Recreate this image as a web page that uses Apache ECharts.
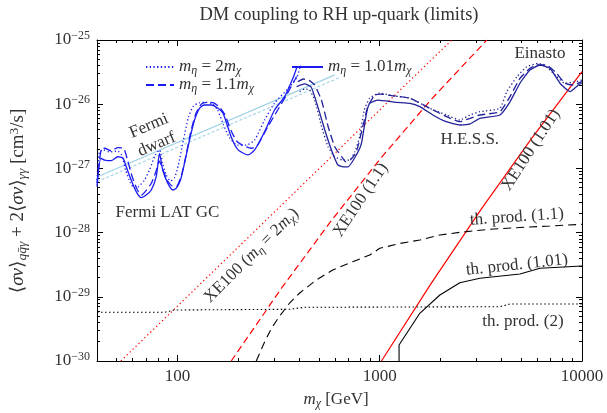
<!DOCTYPE html>
<html><head><meta charset="utf-8">
<script src="https://cdn.jsdelivr.net/npm/echarts@6/dist/echarts.min.js"></script>
<style>html,body{margin:0;padding:0;background:#fff}#c{width:607px;height:413px}</style>
</head><body><div id="c"></div>
<script>
// ---------------- data (mass in GeV, <sigma v> in cm^3/s) ----------------
const xTickLabels = [100, 1000, 10000];
const yTickLabels = [1e-30, 1e-29, 1e-28, 1e-27, 1e-26, 1e-25];

// Fermi LAT GC limits
const gcDot_m = [40, 41.1, 43, 46.1, 50.5, 52.9, 55.4, 58.6, 61.3, 64.2, 68.7, 72.7, 77.7, 81.5, 84.3, 88, 92.3, 96.6, 101, 107, 113.4, 120, 128.5, 139, 149, 157.8, 169, 181, 198, 219, 240.6, 269.6, 302, 346.5, 388, 406];
const gcDot_sv = [6.6e-28, 1.8e-27, 1.94e-27, 1.8e-27, 1.87e-27, 1.62e-27, 9.44e-28, 5.93e-28, 4.95e-28, 5.2e-28, 6.6e-28, 9.44e-28, 1.62e-27, 1.94e-27, 1.21e-27, 7.9e-28, 6.4e-28, 7.1e-28, 1.13e-27, 2.77e-27, 6.3e-27, 9.38e-27, 1.05e-26, 1.07e-26, 1.01e-26, 8.12e-27, 4.74e-27, 2.98e-27, 2.31e-27, 2.31e-27, 2.77e-27, 5.67e-27, 1.04e-26, 1.66e-26, 2.56e-26, 4.08e-26];
const gcDash_m = [40, 41.9, 43.6, 47.1, 50.5, 54.1, 56.6, 60, 63.4, 66.4, 70.3, 74.4, 78.7, 81.5, 84.8, 89.2, 94.4, 98.9, 104.7, 109.5, 116, 123, 131.5, 141, 151, 161.4, 171, 183.5, 196, 212, 232, 249, 279, 313, 346, 380, 388];
const gcDash_sv = [5.93e-28, 1.94e-27, 2.06e-27, 1.87e-27, 2.1e-27, 2.06e-27, 1.35e-27, 7.08e-28, 4.61e-28, 3.85e-28, 4.61e-28, 5.93e-28, 9.44e-28, 1.3e-27, 9.44e-28, 6.4e-28, 5.3e-28, 5.3e-28, 7.9e-28, 1.45e-27, 3.56e-27, 7.03e-27, 1.01e-26, 1.07e-26, 1.05e-26, 9.0e-27, 7.0e-27, 3.97e-27, 2.67e-27, 2.25e-27, 2.06e-27, 2.31e-27, 4.41e-27, 8.12e-27, 1.39e-26, 2.38e-26, 2.7e-26];
const gcSol_m = [40, 41.8, 43.6, 47.0, 50.7, 53.8, 55.8, 59.0, 62.5, 66.1, 70.0, 74.2, 78.5, 81.5, 84.5, 89.5, 94.8, 98.5, 103.5, 108.3, 114.7, 121.4, 128.5, 136, 147, 158.5, 168, 185, 199.5, 223, 240.6, 269.6, 302, 338.6, 372, 391];
const gcSol_sv = [5.2e-28, 1.44e-27, 1.35e-27, 1.32e-27, 1.52e-27, 1.44e-27, 1.06e-27, 6.6e-28, 4.34e-28, 3.5e-28, 3.85e-28, 4.61e-28, 7.43e-28, 1.72e-27, 9.44e-28, 5.9e-28, 4.61e-28, 4.9e-28, 6.6e-28, 1.2e-27, 2.77e-27, 5.67e-27, 8.63e-27, 9.72e-27, 9.72e-27, 8.63e-27, 7.22e-27, 3.0e-27, 1.94e-27, 1.62e-27, 1.94e-27, 3.73e-27, 8.12e-27, 1.31e-26, 2.53e-26, 3.9e-26];

// H.E.S.S. limits (Einasto)
const hsDot_m = [402, 425, 450, 477, 516, 555, 599, 656, 710, 752, 796, 838, 892, 1000, 1185, 1409, 1770, 2140, 2489, 2792, 3126, 3926, 4250, 4770, 5340, 6080, 6650, 7500, 8241, 9350, 10000];
const hsDot_sv = [1.57e-26, 1.73e-26, 1.66e-26, 1.16e-26, 4.46e-27, 2.18e-27, 1.52e-27, 1.35e-27, 1.35e-27, 1.8e-27, 3.12e-27, 8.12e-27, 1.24e-26, 1.49e-26, 1.34e-26, 1.24e-26, 8.63e-27, 6.79e-27, 5.67e-27, 6.79e-27, 7.64e-27, 8.63e-27, 1.57e-26, 2.68e-26, 3.84e-26, 4.33e-26, 3.84e-26, 2.68e-26, 2.12e-26, 2.24e-26, 2.38e-26];
const hsDash_m = [393, 419, 450, 477, 515, 556, 599, 648, 678, 715, 767, 824, 873, 944, 1000, 1185, 1409, 1770, 2140, 2489, 2792, 3126, 3926, 4405, 4935, 5531, 5920, 6650, 7500, 8241, 9060, 10000];
const hsDash_sv = [2.24e-26, 2.47e-26, 2.33e-26, 1.99e-26, 1.16e-26, 4.46e-27, 2.18e-27, 1.52e-27, 1.27e-27, 1.35e-27, 1.82e-27, 4.46e-27, 9.15e-27, 1.39e-26, 1.44e-26, 1.34e-26, 1.24e-26, 8.63e-27, 6.39e-27, 5.34e-27, 6.03e-27, 6.79e-27, 7.64e-27, 1.31e-26, 2.53e-26, 3.62e-26, 4.08e-26, 4.08e-26, 3.0e-26, 2.12e-26, 1.99e-26, 2.24e-26];
const hsSol_m = [388, 425, 458, 494, 535, 577, 621, 660, 697, 766, 812, 860, 892, 980, 1205, 1409, 1578, 1830, 2130, 2489, 2792, 3126, 3926, 4405, 4935, 5531, 6197, 6945, 7782, 8728, 9600, 10000];
const hsSol_sv = [1.87e-26, 2.07e-26, 1.85e-26, 9.15e-27, 3.97e-27, 1.94e-27, 1.13e-27, 1.06e-27, 1.06e-27, 1.62e-27, 2.46e-27, 7.22e-27, 1.03e-26, 1.16e-26, 1.07e-26, 1.03e-26, 9.15e-27, 6.79e-27, 5.34e-27, 4.74e-27, 4.92e-27, 6.03e-27, 6.79e-27, 1.09e-26, 2.12e-26, 3.41e-26, 4.08e-26, 3.62e-26, 2.12e-26, 1.57e-26, 1.99e-26, 2.12e-26];

// Fermi dwarf
const dwSol_m = [40, 600];
const dwSol_sv = [7.34e-28, 2.86e-26];
const dwDash_m = [40, 634];
const dwDash_sv = [6.2e-28, 2.61e-26];

// XENON100
const xeDot_m = [52.5, 2270];
const xeDot_sv = [1e-30, 1e-25];
const xeDash_m = [184.4, 326.1, 576.8, 1019.5, 1803, 3386];
const xeDash_sv = [1e-30, 1.35e-29, 1.543e-28, 1.483e-27, 1.2e-26, 1e-25];
const xeSol_m = [1019.5, 1803, 3188, 5636, 10000];
const xeSol_sv = [1e-30, 1.646e-29, 2.357e-28, 2.943e-27, 3.208e-26];

// thermal production
const thDot_m = [40, 86.3, 96.6, 358.4, 425.3, 3926, 4405, 10000];
const thDot_sv = [5.74e-30, 5.74e-30, 6.23e-30, 6.39e-30, 6.86e-30, 7.01e-30, 7.72e-30, 7.72e-30];
const thDash_m = [245.2, 269.6, 292, 320, 358.4, 401.9, 486, 585.3, 735, 892, 1000, 1257, 1578, 1983, 2489, 3505, 4935, 6945, 10000];
const thDash_sv = [1e-30, 1.98e-30, 3.27e-30, 5.02e-30, 8.0e-30, 1.146e-29, 1.827e-29, 2.61e-29, 3.52e-29, 4.48e-29, 5.69e-29, 6.76e-29, 7.67e-29, 9.18e-29, 1.011e-28, 1.126e-28, 1.2e-28, 1.267e-28, 1.346e-28];
const thSol_m = [1246, 1246, 1578, 1983, 2489, 3126, 4935, 6197, 10000];
const thSol_sv = [1e-30, 1.775e-30, 5.53e-30, 1.066e-29, 1.66e-29, 1.94e-29, 2.26e-29, 2.78e-29, 3.02e-29];

// ---------------- chart ----------------
const L = Math.log10;
const FONT = '"Liberation Serif","DejaVu Serif",serif';
const TXT = '#333';
const pts = (m, s) => m.map((v, i) => [L(v), L(s[i])]);

const xMin = L(40), xMax = L(10000), yMin = L(1e-30), yMax = L(1e-25);
const xMajor = xTickLabels.map(L);
const yMajor = yTickLabels.map(v => Math.round(L(v)));
const xMinor = [], yMinor = [];
for (let e = 1; e <= 3; e++) for (let k = 2; k <= 9; k++) { const v = k * Math.pow(10, e); if (v > 40 && v < 10000) xMinor.push(L(v)); }
for (let e = -30; e <= -26; e++) for (let k = 2; k <= 9; k++) yMinor.push(e + L(k));

const R = {
  n: {fontFamily: FONT, fontSize: 17, color: TXT, lineHeight: 20, verticalAlign: 'middle'},
  t: {fontFamily: FONT, fontSize: 18.5, color: TXT, lineHeight: 20, verticalAlign: 'middle'},
  i: {fontFamily: FONT, fontSize: 17, fontStyle: 'italic', color: TXT, lineHeight: 20, verticalAlign: 'middle'},
  s: {fontFamily: FONT, fontSize: 12, color: TXT, lineHeight: 8, verticalAlign: 'bottom'},
  si: {fontFamily: FONT, fontSize: 12, fontStyle: 'italic', color: TXT, lineHeight: 8, verticalAlign: 'bottom'},
  p: {fontFamily: FONT, fontSize: 12, color: TXT, lineHeight: 10, verticalAlign: 'top'},
  // larger variants for the y-axis title
  yn: {fontFamily: FONT, fontSize: 19, color: TXT, lineHeight: 22, verticalAlign: 'middle'},
  yi: {fontFamily: FONT, fontSize: 19, fontStyle: 'italic', color: TXT, lineHeight: 22, verticalAlign: 'middle'},
  ys: {fontFamily: FONT, fontSize: 13.5, fontStyle: 'italic', color: TXT, lineHeight: 9, verticalAlign: 'bottom'},
  yp: {fontFamily: FONT, fontSize: 13.5, color: TXT, lineHeight: 11, verticalAlign: 'top'}
};

function axis(dim, pos, vals, len, main) {
  const isX = dim === 'x';
  return {
    type: 'value', position: pos,
    min: isX ? xMin : yMin, max: isX ? xMax : yMax,
    axisLine: {show: main, onZero: false, lineStyle: {color: '#000', width: 1}},
    axisTick: {show: true, inside: true, length: len, customValues: vals, lineStyle: {color: '#000', width: 1}},
    axisLabel: {show: false},
    splitLine: {show: false}, minorTick: {show: false}
  };
}
const xAxes = [axis('x', 'bottom', xMajor, 6, true), axis('x', 'bottom', xMinor, 3, false),
               axis('x', 'top', xMajor, 6, true), axis('x', 'top', xMinor, 3, false)];
xAxes[0].axisLabel = {show: true, customValues: xMajor, margin: 7, fontFamily: FONT, fontSize: 17, color: TXT,
  formatter: v => String(Math.round(Math.pow(10, v)))};
const yAxes = [axis('y', 'left', yMajor, 6, true), axis('y', 'left', yMinor, 3, false),
               axis('y', 'right', yMajor, 6, true), axis('y', 'right', yMinor, 3, false)];
yAxes[0].axisLabel = {show: true, customValues: yMajor, margin: 7,
  formatter: v => '{n|10}{p|' + String(Math.round(v)).replace('-', '\u2212') + '}',
  rich: R};

function line(name, m, s, color, width, type, smooth, z) {
  return {type: 'line', name: name, data: pts(m, s), showSymbol: false, symbol: 'none',
    lineStyle: {color: color, width: width, type: type}, itemStyle: {color: color},
    smooth: smooth || false, z: z || 2, silent: true, clip: true, xAxisIndex: 0, yAxisIndex: 0};
}
const GC = '#1c1cf0', HS = '#22229a', RED = '#ff0000', LB = '#9fd3e6';
const DOT = [1.3, 2.4], DASH = [8, 4];
const series = [
  line('dw1', dwSol_m, dwSol_sv, LB, 1.3, 'solid'),
  line('dw2', dwDash_m, dwDash_sv, LB, 1.1, [3, 2]),
  line('xe2', xeDot_m, xeDot_sv, RED, 1.2, [1.3, 2.8]),
  line('xe11', xeDash_m, xeDash_sv, RED, 1.2, [7, 4]),
  line('xe101', xeSol_m, xeSol_sv, RED, 1.2, 'solid'),
  line('th2', thDot_m, thDot_sv, '#000', 1.1, [1.5, 2.5]),
  line('th11', thDash_m, thDash_sv, '#000', 1.1, [8, 5]),
  line('th101', thSol_m, thSol_sv, '#000', 1.1, 'solid'),
  line('2', gcDot_m, gcDot_sv, GC, 1.3, DOT, 0.2, 3),
  line('1.1', gcDash_m, gcDash_sv, GC, 1.3, DASH, 0.2, 3),
  line('1.01', gcSol_m, gcSol_sv, GC, 1.3, 'solid', 0.2, 3),
  line('2', hsDot_m, hsDot_sv, HS, 1.3, DOT, 0.15, 3),
  line('1.1', hsDash_m, hsDash_sv, HS, 1.3, DASH, 0.15, 3),
  line('1.01', hsSol_m, hsSol_sv, HS, 1.3, 'solid', 0.15, 3)
];

const legendText = {
  '2': '{i|m}{si|\u03b7}{n| = 2}{i|m}{si|\u03c7}',
  '1.1': '{i|m}{si|\u03b7}{n| = 1.1}{i|m}{si|\u03c7}',
  '1.01': '{i|m}{si|\u03b7}{n| = 1.01}{i|m}{si|\u03c7}'
};
const legBase = {orient: 'vertical', itemHeight: 10, itemGap: -2, selectedMode: false,
  itemStyle: {opacity: 0, color: 'rgba(0,0,0,0)', borderWidth: 0, borderColor: 'rgba(0,0,0,0)'},
  formatter: n => legendText[n], textStyle: {fontFamily: FONT, fontSize: 17, color: TXT, lineHeight: 20, rich: R}};

const chart = echarts.init(document.getElementById('c'), null, {renderer: 'canvas'});
chart.setOption({
  animation: false,
  backgroundColor: '#fff',
  grid: {left: 97, top: 40, width: 485, height: 321, containLabel: false},
  xAxis: xAxes, yAxis: yAxes,
  legend: [
    Object.assign({}, legBase, {left: 140, top: 52, itemWidth: 28, data: ['2', '1.1']}),
    Object.assign({}, legBase, {left: 286, top: 52, itemWidth: 31, data: ['1.01']})
  ],
  series: series
});

// ---------------- annotations ----------------
const notes = [
  {t: '{n|Fermi}\n{n|dwarf}', m: 75.5, sv: 3.3e-27, rot: 23},
  {t: '{n|Fermi LAT GC}', m: 89.2, sv: 2.02e-28, rot: 0},
  {t: '{n|H.E.S.S.}', m: 2789, sv: 2.77e-27, rot: 0},
  {t: '{n|Einasto}', m: 6197, sv: 6.05e-26, rot: 0},
  {t: '{n|XE100 (}{i|m}{si|\u03b7}{n| = 2}{i|m}{si|\u03c7}{n|)}', m: 232, sv: 4.4e-29, rot: 45},
  {t: '{n|XE100 (1.1)}', m: 805, sv: 3.22e-28, rot: 56},
  {t: '{n|XE100 (1.01)}', m: 5592, sv: 1.94e-27, rot: 57},
  {t: '{n|th. prod. (1.1)}', m: 4764, sv: 1.75e-28, rot: 4},
  {t: '{n|th. prod. (1.01)}', m: 4764, sv: 3.13e-29, rot: 6},
  {t: '{n|th. prod. (2)}', m: 5105, sv: 4.05e-30, rot: 0}
];
function txt(x, y, text, rot) {
  return {type: 'text', x: x, y: y, rotation: (rot || 0) * Math.PI / 180, silent: true, z: 10,
    style: {text: text, rich: R, fill: TXT, font: '17px ' + FONT, lineHeight: 18,
      align: 'center', verticalAlign: 'middle', textAlign: 'center', textVerticalAlign: 'middle'}};
}
const graphics = notes.map(n => {
  const p = chart.convertToPixel({xAxisIndex: 0, yAxisIndex: 0}, [L(n.m), L(n.sv)]);
  return txt(p[0], p[1], n.t, n.rot);
});
graphics.push(txt(339, 15, '{t|DM coupling to RH up-quark (limits)}', 0));
graphics.push(txt(336, 400, '{i|m}{si|\u03c7}{n| [GeV]}', 0));
graphics.push(txt(18, 201, '{yn|\u27e8}{yi|\u03c3v}{yn|\u27e9}{ys|q\u0071\u0304\u03b3}{yn| + 2\u27e8}{yi|\u03c3v}{yn|\u27e9}{ys|\u03b3\u03b3}{yn| [cm}{yp|3}{yn|/s]}', 90));
chart.setOption({graphic: graphics});
</script></body></html>
